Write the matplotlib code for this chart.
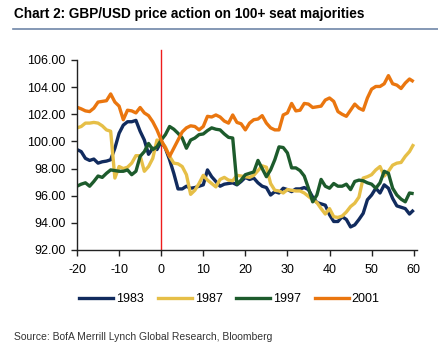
import numpy as np
import matplotlib
matplotlib.use('Agg')
import matplotlib.pyplot as plt
from matplotlib.lines import Line2D

plt.rcParams['font.family'] = ['Liberation Sans', 'DejaVu Sans']
plt.rcParams['axes.unicode_minus'] = False

# trading days around the election
days = np.arange(-20, 61)

gbp_1983 = [99.4, 99.25, 98.75, 98.6, 98.7, 98.4, 98.5, 98.55, 98.65, 99.5,
            100.6, 101.2, 101.45, 101.45, 101.55, 100.75, 100.1, 99.05, 99.5, 99.4,
            100.0, 99.5, 98.65, 97.65, 96.5, 96.5, 96.7, 96.55, 96.6, 96.7,
            96.8, 97.9, 97.4, 97.05, 96.7, 96.85, 96.9, 96.95, 96.8, 97.05,
            97.35, 97.2, 97.3, 96.95, 96.7, 96.6, 96.05, 96.3, 96.2, 96.55,
            96.45, 96.3, 96.5, 96.5, 96.6, 96.45, 95.9, 95.5, 95.4, 95.3,
            94.6, 94.1, 94.1, 94.45, 94.25, 93.7, 93.85, 94.25, 94.7, 95.7,
            96.05, 96.55, 96.2, 96.8, 96.55, 95.8, 95.25, 95.15, 95.05, 94.65,
            94.95]

gbp_1987 = [101.0, 101.1, 101.35, 101.35, 101.4, 101.35, 101.15, 100.85, 100.75, 97.3,
            98.15, 98.0, 98.1, 98.4, 98.95, 98.95, 97.8, 98.15, 98.75, 100.1,
            100.0, 99.6, 98.9, 98.4, 98.35, 98.15, 97.55, 96.1, 96.4, 96.9,
            97.5, 97.15, 96.9, 96.65, 97.2, 97.35, 97.15, 97.1, 97.5, 97.45,
            97.4, 97.35, 97.5, 97.85, 98.2, 98.1, 96.9, 96.4, 96.35, 96.2,
            96.45, 96.4, 96.35, 96.35, 96.2, 95.95, 95.7, 95.5, 95.05, 94.65,
            95.05, 94.45, 94.4, 94.5, 94.8, 95.2, 95.45, 95.9, 97.3, 97.4,
            97.55, 97.9, 98.15, 97.45, 97.8, 98.25, 98.4, 98.45, 98.9, 99.25,
            99.8]

gbp_1997 = [96.7, 96.85, 96.95, 96.7, 97.05, 97.45, 97.35, 97.65, 97.9, 97.85,
            97.8, 97.8, 97.9, 97.55, 97.8, 98.9, 99.25, 99.85, 99.4, 99.6,
            100.1, 100.5, 101.1, 100.9, 100.6, 100.25, 99.5, 100.1, 100.25, 100.5,
            100.55, 100.8, 101.0, 100.9, 100.85, 100.55, 100.3, 100.25, 96.85, 97.15,
            97.55, 97.65, 97.75, 98.6, 98.0, 97.4, 97.9, 98.65, 99.6, 99.55,
            99.15, 98.05, 98.05, 97.85, 97.45, 96.55, 95.55, 96.05, 97.2, 96.7,
            96.55, 96.9, 96.7, 96.7, 96.85, 96.45, 97.05, 97.15, 97.1, 96.95,
            96.85, 96.55, 96.95, 97.8, 97.65, 96.55, 96.05, 95.75, 95.55, 96.2,
            96.15]

gbp_2001 = [102.52, 102.4, 102.25, 102.2, 102.45, 102.9, 102.95, 103.0, 103.5, 102.9,
            102.6, 101.6, 102.3, 102.25, 102.1, 102.5, 102.1, 101.9, 101.45, 100.85,
            100.1, 99.5, 98.9, 99.5, 100.1, 100.7, 101.0, 101.15, 101.1, 100.85,
            101.1, 101.85, 101.8, 101.95, 101.8, 101.5, 101.35, 101.95, 101.4, 101.3,
            100.85, 101.35, 101.6, 101.65, 101.9, 101.35, 101.0, 100.85, 100.85, 101.95,
            102.1, 102.8, 102.25, 102.3, 102.8, 102.75, 102.5, 102.55, 102.6, 103.05,
            103.2, 102.95, 102.2, 102.0, 101.85, 102.3, 102.75, 102.45, 102.3, 103.2,
            103.85, 104.05, 104.05, 104.25, 104.85, 104.25, 104.15, 103.9, 104.3, 104.6,
            104.4]

labels = ['1983', '1987', '1997', '2001']
colors = ['#112b5e', '#e6bf47', '#1d5b2c', '#ea760f']
series = [gbp_1983, gbp_1987, gbp_1997, gbp_2001]

fig = plt.figure(figsize=(4.39, 3.61), dpi=100)
ax = fig.add_axes([0.1754, 0.3075, 0.7746, 0.5263])

for vals, c, lab in zip(series, colors, labels):
    ax.plot(days, vals, color=c, lw=2.4, label=lab, solid_capstyle='butt')

ax.axvline(0, ymin=0, ymax=1.05, color='#ee1c1c', lw=1.0, clip_on=False, zorder=1)

ax.set_xlim(-20, 60.8)
ax.set_ylim(92, 106)
ax.set_xticks(np.arange(-20, 61, 10))
ax.set_yticks(np.arange(92, 107, 2))
ax.yaxis.set_major_formatter(matplotlib.ticker.FormatStrFormatter('%.2f'))
ax.tick_params(axis='both', labelsize=9, length=4, width=1, color='#222222', direction='out')
ax.tick_params(axis='x', pad=6)
ax.tick_params(axis='y', pad=4)
for s in ['top', 'right']:
    ax.spines[s].set_visible(False)
for s in ['left', 'bottom']:
    ax.spines[s].set_color('#222222')
    ax.spines[s].set_linewidth(1)

handles = [Line2D([], [], color=c, lw=2.4) for c in colors]
fig.legend(handles, labels, loc='center', bbox_to_anchor=(0.523, 0.172), ncol=4,
           frameon=False, fontsize=9, handlelength=2.7, handletextpad=0.25,
           columnspacing=1.1)

fig.text(0.032, 0.96, 'Chart 2: GBP/USD price action on 100+ seat majorities',
         fontsize=9.8, fontweight='bold', va='center', ha='left')
fig.add_artist(Line2D([0.03, 1.0], [0.919, 0.919], color='#6f86a8', lw=1.2))

fig.text(0.032, 0.067, 'Source: BofA Merrill Lynch Global Research, Bloomberg',
         fontsize=7.5, va='center', ha='left', color='#333333')

fig.savefig('out.png', dpi=100)
